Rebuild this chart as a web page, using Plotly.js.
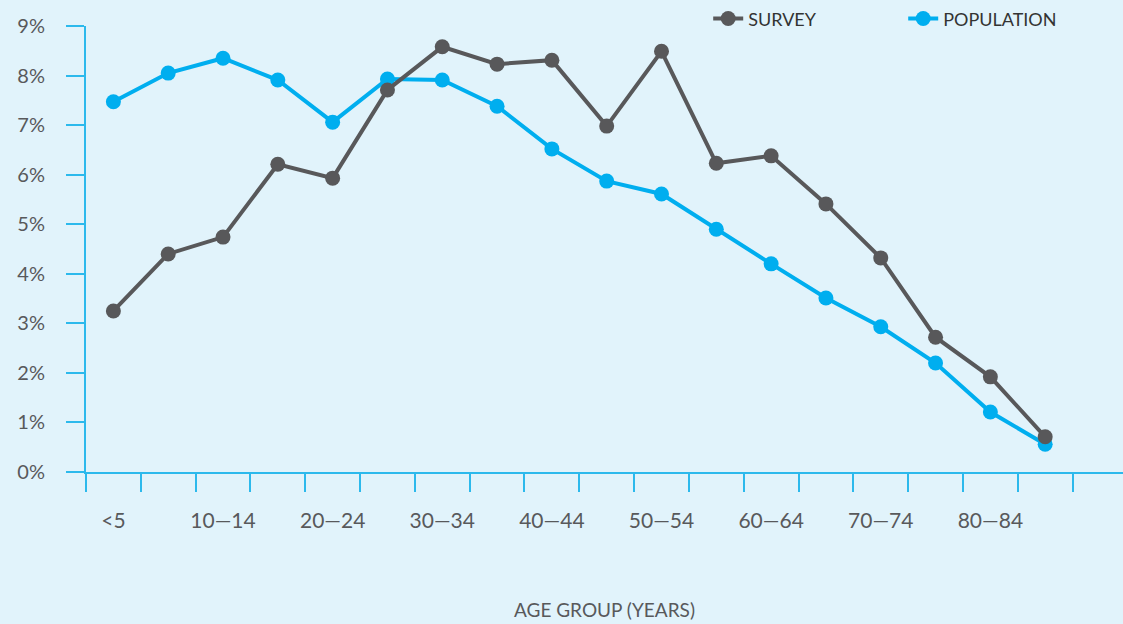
<!DOCTYPE html>
<html>
<head>
<meta charset="utf-8">
<script src="https://cdn.plot.ly/plotly-3.0.1.min.js"></script>
<style>
  html, body { margin: 0; padding: 0; background: #e1f3fb; }
  #chart { width: 1123px; height: 624px; }
</style>
</head>
<body>
<div id="chart"></div>
<script>
// Age groups (every other one is labelled on the axis)
let ageGroups = ['<5', '5—9', '10—14', '15—19', '20—24', '25—29', '30—34', '35—39', '40—44',
    '45—49', '50—54', '55—59', '60—64', '65—69', '70—74', '75—79', '80—84', '85+'];
let tickLabels = ['<5', '', '10—14', '', '20—24', '', '30—34', '', '40—44',
    '', '50—54', '', '60—64', '', '70—74', '', '80—84', ''];

// Share of each age group, in percent
let surveyValues = [3.25, 4.40, 4.74, 6.21, 5.93, 7.71, 8.58, 8.23, 8.31,
    6.98, 8.49, 6.23, 6.38, 5.41, 4.32, 2.72, 1.92, 0.71];
let populationValues = [7.47, 8.05, 8.35, 7.91, 7.06, 7.93, 7.91, 7.38, 6.52,
    5.87, 5.61, 4.90, 4.20, 3.51, 2.93, 2.20, 1.21, 0.56];

const grey = '#58585a';
const blue = '#00aeef';
const axisBlue = '#2cb9ec';
const textGrey = '#58595b';
const fontFamily = 'Lato, "Open Sans", sans-serif';

let population = {
    x: ageGroups,
    y: populationValues,
    name: 'POPULATION',
    type: 'scatter',
    mode: 'lines+markers',
    line: { color: blue, width: 4 },
    marker: { color: blue, size: 15 },
    hoverinfo: 'none'
};

let survey = {
    x: ageGroups,
    y: surveyValues,
    name: 'SURVEY',
    type: 'scatter',
    mode: 'lines+markers',
    line: { color: grey, width: 4 },
    marker: { color: grey, size: 15 },
    hoverinfo: 'none'
};

let layout = {
    width: 1123,
    height: 624,
    autosize: false,
    paper_bgcolor: '#e1f3fb',
    plot_bgcolor: '#e1f3fb',
    margin: { l: 86, r: 0, t: 26, b: 152, pad: 0 },
    font: { family: fontFamily, color: textGrey, size: 20 },
    showlegend: true,
    legend: {
        orientation: 'h',
        x: 0.6,
        xanchor: 'left',
        y: 1.016,
        yanchor: 'middle',
        traceorder: 'reversed',
        bgcolor: 'rgba(0,0,0,0)',
        font: { size: 18, color: '#333333' },
        entrywidth: 150,
        entrywidthmode: 'pixels'
    },
    xaxis: {
        type: 'category',
        range: [-0.5, 18.42],
        tickmode: 'array',
        tickvals: ageGroups,
        ticktext: tickLabels,
        tickson: 'boundaries',
        tickangle: 0,
        tickfont: { size: 21 },
        ticks: 'outside',
        ticklen: 18,
        tickwidth: 2,
        tickcolor: axisBlue,
        ticklabelstandoff: 29,
        showline: true,
        linecolor: axisBlue,
        linewidth: 2,
        showgrid: false,
        zeroline: false,
        fixedrange: true,
        title: {
            text: 'AGE GROUP (YEARS)',
            font: { size: 19, color: textGrey },
            standoff: 72
        },
        automargin: false
    },
    yaxis: {
        range: [0, 9],
        dtick: 1,
        ticksuffix: '%',
        ticks: 'outside',
        ticklen: 18,
        tickwidth: 2,
        tickcolor: axisBlue,
        ticklabelstandoff: 17,
        showline: true,
        linecolor: axisBlue,
        linewidth: 2,
        showgrid: false,
        zeroline: false,
        fixedrange: true,
        automargin: false
    }
};

Plotly.newPlot('chart', [population, survey], layout, { displayModeBar: false, staticPlot: true });
</script>
</body>
</html>
